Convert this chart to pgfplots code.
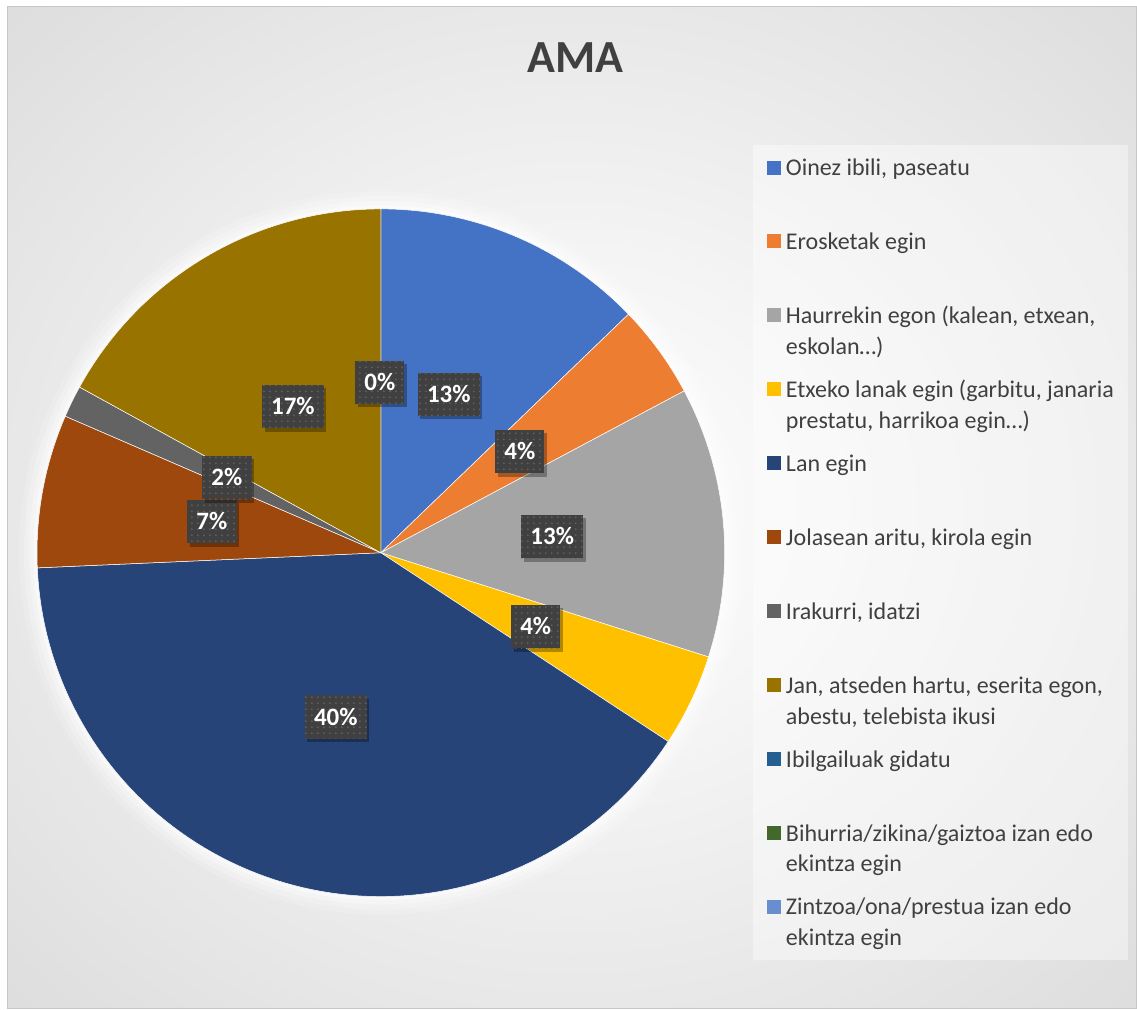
\documentclass[border=0pt]{standalone}
\usepackage{fontspec}
\setmainfont{Carlito}
\usepackage{pgfplots}
\usepackage{pgfplotstable}
\pgfplotsset{compat=1.18}
\usetikzlibrary{patterns,shadows}
\definecolor{cA}{HTML}{4472C4}
\definecolor{cB}{HTML}{ED7D31}
\definecolor{cC}{HTML}{A5A5A5}
\definecolor{cD}{HTML}{FFC000}
\definecolor{cE}{HTML}{264478}
\definecolor{cF}{HTML}{9E480E}
\definecolor{cG}{HTML}{636363}
\definecolor{cH}{HTML}{997300}
\definecolor{cI}{HTML}{255E91}
\definecolor{cJ}{HTML}{43682B}
\definecolor{cK}{HTML}{698ED0}
\definecolor{titlegray}{HTML}{404040}
\definecolor{legtext}{HTML}{404040}
\definecolor{labelbg}{HTML}{404040}
\pgfdeclareradialshading{chartbg}{\pgfpoint{0bp}{0bp}}{color(0bp)=(white); color(12bp)=(black!4); color(50bp)=(black!19); color(71bp)=(black!27)}
% slice values (percent)
\def\vA{12.8}\def\vB{4.4}\def\vC{12.7}\def\vD{4.35}
\def\vE{40.05}\def\vF{7.2}\def\vG{1.5}\def\vH{17.0}
\pgfmathsetmacro\aA{0}
\pgfmathsetmacro\aB{\aA+3.6*\vA}
\pgfmathsetmacro\aC{\aB+3.6*\vB}
\pgfmathsetmacro\aD{\aC+3.6*\vC}
\pgfmathsetmacro\aE{\aD+3.6*\vD}
\pgfmathsetmacro\aF{\aE+3.6*\vE}
\pgfmathsetmacro\aG{\aF+3.6*\vF}
\pgfmathsetmacro\aH{\aG+3.6*\vG}
\pgfmathsetmacro\aI{\aH+3.6*\vH}
\pgfplotstableread{
x y lab
449 614.5 13
520 557 4
552.5 472 13
536 382 4
336 291.5 40
212 487 7
227 531 2
293 602 17
380 626.5 0
}\labeltable
\newcommand{\legtxt}[1]{\raisebox{0pt}[15.5pt][21.5pt]{\parbox[t]{164pt}{#1}}}
\begin{document}
\begin{tikzpicture}
% chart area background (1px = 0.5pt; axis box spans 0..568.5pt x 0..504.5pt)
\fill[white] (0pt,0pt) rectangle (568.5pt,504.5pt);
\shadedraw[shading=chartbg, draw=black!22, line width=0.5pt] (3.75pt,0pt) rectangle (568.5pt,501.25pt);
\fill[white, opacity=0.16] (190.5pt,228pt) circle[radius=181pt];
\fill[white, opacity=0.22] (190.5pt,228pt) circle[radius=178.5pt];
\fill[white, opacity=0.3] (190.5pt,228pt) circle[radius=176pt];
\fill[white, opacity=0.45] (190.5pt,228pt) circle[radius=173.8pt];
% legend panel
\fill[white, opacity=0.4] (376.5pt,24.5pt) rectangle (564pt,432pt);
\begin{axis}[
  at={(0pt,0pt)}, anchor=south west,
  scale only axis, width=568.5pt, height=504.5pt,
  xmin=0, xmax=1137, ymin=0, ymax=1009,
  hide axis, clip=false,
  /pgf/number format/assume math mode=true,
  legend image code/.code={\fill[#1,draw=none,fill opacity=1] (0pt,0.4pt) rectangle (7pt,7.4pt);},
  legend style={at={(0.66227,0.86125)}, anchor=north west, draw=none,
    fill=none,
    inner xsep=6.85pt, inner ysep=0pt, column sep=0.6pt, row sep=16pt,
    font=\fontsize{12}{15.5}\selectfont, text=legtext,
    cells={anchor=base west, inner sep=0pt}},
]
\node[anchor=base, font=\bfseries\fontsize{23}{28}\selectfont, text=titlegray] at (axis cs:576,936.3) {AMA};

\addplot[fill=cA, draw=white, line width=0.25pt, domain=\aA:\aB, samples=40] ({381+344*sin(x)},{456+344*cos(x)}) -- (axis cs:381,456) -- cycle;
\addlegendentry{\legtxt{Oinez ibili, paseatu}}
\addplot[fill=cB, draw=white, line width=0.25pt, domain=\aB:\aC, samples=20] ({381+344*sin(x)},{456+344*cos(x)}) -- (axis cs:381,456) -- cycle;
\addlegendentry{\legtxt{Erosketak egin}}
\addplot[fill=cC, draw=white, line width=0.25pt, domain=\aC:\aD, samples=40] ({381+344*sin(x)},{456+344*cos(x)}) -- (axis cs:381,456) -- cycle;
\addlegendentry{\legtxt{Haurrekin egon (kalean, etxean,\\eskolan…)}}
\addplot[fill=cD, draw=white, line width=0.25pt, domain=\aD:\aE, samples=20] ({381+344*sin(x)},{456+344*cos(x)}) -- (axis cs:381,456) -- cycle;
\addlegendentry{\legtxt{Etxeko lanak egin (garbitu, janaria\\prestatu, harrikoa egin…)}}
\addplot[fill=cE, draw=white, line width=0.25pt, domain=\aE:\aF, samples=90] ({381+344*sin(x)},{456+344*cos(x)}) -- (axis cs:381,456) -- cycle;
\addlegendentry{\legtxt{Lan egin}}
\addplot[fill=cF, draw=white, line width=0.25pt, domain=\aF:\aG, samples=20] ({381+344*sin(x)},{456+344*cos(x)}) -- (axis cs:381,456) -- cycle;
\addlegendentry{\legtxt{Jolasean aritu, kirola egin}}
\addplot[fill=cG, draw=white, line width=0.25pt, domain=\aG:\aH, samples=10] ({381+344*sin(x)},{456+344*cos(x)}) -- (axis cs:381,456) -- cycle;
\addlegendentry{\legtxt{Irakurri, idatzi}}
\addplot[fill=cH, draw=white, line width=0.25pt, domain=\aH:\aI, samples=40] ({381+344*sin(x)},{456+344*cos(x)}) -- (axis cs:381,456) -- cycle;
\addlegendentry{\legtxt{Jan, atseden hartu, eserita egon,\\abestu, telebista ikusi}}
\addlegendimage{fill=cI}
\addlegendentry{\legtxt{Ibilgailuak gidatu}}
\addlegendimage{fill=cJ}
\addlegendentry{\legtxt{Bihurria/zikina/gaiztoa izan edo\\ekintza egin}}
\addlegendimage{fill=cK}
\addlegendentry{\legtxt{Zintzoa/ona/prestua izan edo\\ekintza egin}}

\addplot[forget plot, draw=none, mark=none, point meta=explicit,
  nodes near coords={\pgfmathprintnumber{\pgfplotspointmeta}\%},
  every node near coord/.append style={anchor=center,
    font=\bfseries\fontsize{12.5}{15}\selectfont, text=white, fill=labelbg,
    inner xsep=4.6pt, inner ysep=6.8pt, text height=8.1pt, text depth=0pt,
    drop shadow={shadow xshift=1.3pt, shadow yshift=-1.6pt, opacity=0.3, fill=black},
    postaction={pattern=dots, pattern color=black!62}}]
  table[x=x, y=y, meta=lab] {\labeltable};
\end{axis}
\end{tikzpicture}
\end{document}
